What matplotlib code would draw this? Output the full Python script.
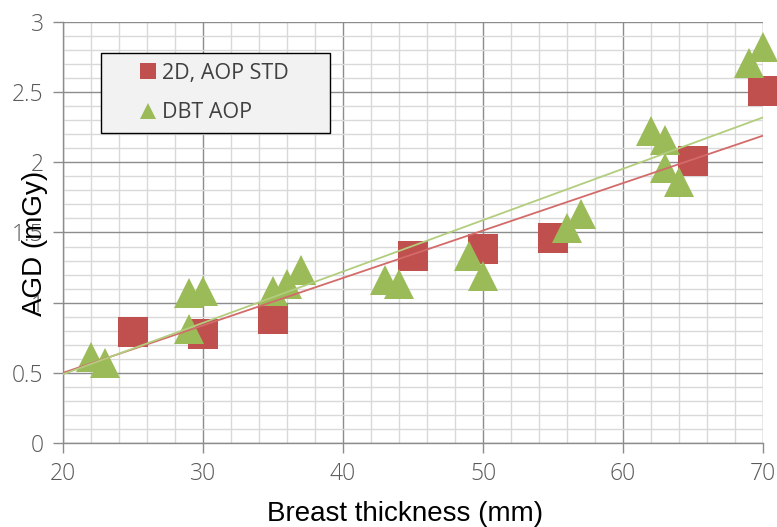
import matplotlib
matplotlib.use("Agg")
import matplotlib.pyplot as plt
from matplotlib.ticker import MultipleLocator, FuncFormatter
from matplotlib.patches import Rectangle

# 2D, AOP STD
std_x = [25, 30, 35, 45, 50, 55, 65, 70]
std_y = [0.79, 0.78, 0.88, 1.33, 1.38, 1.46, 2.01, 2.51]

# DBT AOP
dbt_x = [22, 23, 29, 30, 29, 35, 36, 37, 43, 44, 49, 50, 56, 57, 62, 63, 63, 64, 69, 70]
dbt_y = [0.61, 0.57, 1.07, 1.08, 0.81, 1.08, 1.13, 1.23, 1.16, 1.13, 1.33, 1.19,
         1.53, 1.63, 2.22, 2.16, 1.96, 1.86, 2.71, 2.82]

# linear trend lines (read at x = 20 and x = 70)
trend_x = [20, 70]
std_trend = [0.50, 2.19]
dbt_trend = [0.49, 2.32]

red = "#C0504D"
green = "#9BBB59"

fig = plt.figure(figsize=(7.77, 5.27), dpi=100)
ax = fig.add_axes([0.0811, 0.1594, 0.9009, 0.7989])

ax.plot(std_x, std_y, "s", color=red, ms=21.5, mew=0, label="2D, AOP STD",
        zorder=3, clip_on=False)
ax.plot(dbt_x, dbt_y, "^", color=green, ms=22, mew=0, label="DBT AOP",
        zorder=4, clip_on=False)
ax.plot(trend_x, std_trend, color="#D26B69", lw=1.3, zorder=5)
ax.plot(trend_x, dbt_trend, color="#B3CD7E", lw=1.3, zorder=5)

ax.set_xlim(20, 70)
ax.set_ylim(0, 3)
ax.xaxis.set_major_locator(MultipleLocator(10))
ax.xaxis.set_minor_locator(MultipleLocator(2))
ax.yaxis.set_major_locator(MultipleLocator(0.5))
ax.yaxis.set_minor_locator(MultipleLocator(0.1))
ax.yaxis.set_major_formatter(FuncFormatter(lambda v, p: f"{v:g}"))

ax.grid(which="major", color="#8c8c8c", lw=1.0, zorder=1)
ax.grid(which="minor", color="#d9d9d9", lw=1.0, zorder=0)
ax.set_axisbelow(True)

for s in ["top", "right"]:
    ax.spines[s].set_visible(False)
for s in ["left", "bottom"]:
    ax.spines[s].set_color("#8c8c8c")
    ax.spines[s].set_linewidth(1.0)

ax.tick_params(which="major", length=7, width=1, color="#8c8c8c",
               labelsize=16.5, labelcolor="#595959", pad=7)
ax.tick_params(which="minor", length=0)
for lab in ax.get_xticklabels() + ax.get_yticklabels():
    lab.set_family("Open Sans")
    lab.set_fontweight("light")

fig.text(0.521, 0.012, "Breast thickness (mm)", family="Liberation Sans",
         fontsize=20, color="black", ha="center", va="baseline")
fig.text(0.045, 0.539, "AGD (mGy)", rotation=90, family="Liberation Sans",
         fontsize=20, color="black", ha="center", va="center")

# legend box
box = Rectangle((0.054, 0.736), 0.327, 0.19, transform=ax.transAxes,
                facecolor="#f2f2f2", edgecolor="black", lw=1.0, zorder=6,
                clip_on=False)
ax.add_patch(box)
leg = ax.legend(loc="center left", bbox_to_anchor=(0.109, 0.831), frameon=False,
                prop={"family": "Open Sans", "size": 15.5},
                markerscale=0.53, handlelength=0.8, handletextpad=0.25,
                borderpad=0, labelspacing=0.87, borderaxespad=0)
leg.set_zorder(7)
for t in leg.get_texts():
    t.set_color("#404040")

fig.savefig("out.png", dpi=100)
